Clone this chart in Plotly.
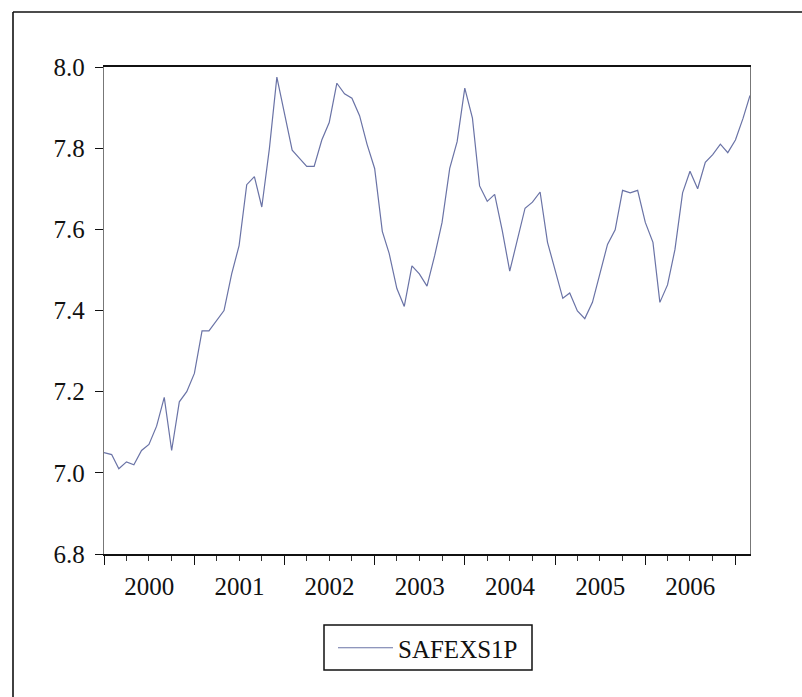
import pandas as pd
import plotly.graph_objects as go

# ---- data ----
series_name = "SAFEXS1P"
start_month = "2000-01-01"
values = [
    7.050, 7.045, 7.010, 7.027, 7.020, 7.055, 7.070, 7.115, 7.186, 7.055, 7.175, 7.200,   # 2000
    7.245, 7.350, 7.350, 7.377, 7.400, 7.490, 7.560, 7.710, 7.730, 7.655, 7.800, 7.975,   # 2001
    7.885, 7.795, 7.776, 7.755, 7.755, 7.820, 7.863, 7.960, 7.934, 7.923, 7.880, 7.810,   # 2002
    7.750, 7.595, 7.540, 7.454, 7.410, 7.510, 7.490, 7.460, 7.535, 7.617, 7.750, 7.816,   # 2003
    7.948, 7.874, 7.707, 7.669, 7.686, 7.596, 7.497, 7.577, 7.652, 7.667, 7.692, 7.568,   # 2004
    7.497, 7.430, 7.443, 7.399, 7.380, 7.420, 7.490, 7.563, 7.599, 7.696, 7.690, 7.696,   # 2005
    7.617, 7.568, 7.420, 7.463, 7.550, 7.690, 7.743, 7.700, 7.765, 7.784, 7.810, 7.789,   # 2006
    7.820, 7.874, 7.930,                                                                  # 2007
]
dates = pd.date_range(start_month, periods=len(values), freq="MS")
y_range = [6.8, 8.0]

FONT = "Liberation Serif"
W, H = 802, 697
L, R, T, B = 104, 52, 67, 143   # margins -> plot area 104..750 x 67..554
pw, ph = W - L - R, H - T - B

def px_to_paper_x(px):
    return (px - L) / pw

def px_to_paper_y(py):
    return (H - B - py) / ph

fig = go.Figure()
fig.add_trace(go.Scatter(
    x=dates, y=values, mode="lines", name=series_name,
    line=dict(color="#6a73a6", width=1.2),
))

fig.update_layout(
    width=W, height=H,
    margin=dict(l=L, r=R, t=T, b=B, pad=0),
    paper_bgcolor="white", plot_bgcolor="white",
    font=dict(family=FONT, size=25, color="#111111"),
    showlegend=True,
    legend=dict(
        x=px_to_paper_x(428), xanchor="center",
        y=px_to_paper_y(625), yanchor="top",
        borderwidth=0, bgcolor="rgba(0,0,0,0)",
        font=dict(family=FONT, size=25, color="#111111"),
        itemwidth=55, tracegroupgap=0,
    ),
    xaxis=dict(
        type="date",
        range=[dates[0], dates[-1]],
        tick0=start_month, dtick="M12",
        tickformat="%Y", ticklabelmode="period",
        ticks="outside", ticklen=9, tickwidth=1.3, tickcolor="#111111",
        minor=dict(dtick="M3", ticks="outside", ticklen=5, tickwidth=1, tickcolor="#333333"),
        showline=True, linecolor="#111111", linewidth=1.5, mirror=True,
        showgrid=False, zeroline=False,
        tickfont=dict(family=FONT, size=25, color="#111111"),
        ticklabelstandoff=0,
    ),
    yaxis=dict(
        range=y_range, dtick=0.2, tick0=6.8, tickformat=".1f",
        ticks="outside", ticklen=8, tickwidth=1.3, tickcolor="#111111",
        showline=True, linecolor="#777777", linewidth=1.3, mirror=True,
        showgrid=False, zeroline=False,
        tickfont=dict(family=FONT, size=25, color="#111111"),
        ticklabelstandoff=5,
    ),
)

# legend box
fig.add_shape(type="rect", xref="paper", yref="paper",
              x0=px_to_paper_x(324), x1=px_to_paper_x(532),
              y0=px_to_paper_y(670), y1=px_to_paper_y(625),
              line=dict(color="#111111", width=1.5), fillcolor="rgba(0,0,0,0)", layer="above")

# outer frame (scanned graph border: top and left edges)
frame = dict(type="line", xref="paper", yref="paper", line=dict(color="#111111", width=1.6), layer="above")
fig.add_shape(x0=px_to_paper_x(13), y0=px_to_paper_y(12), x1=px_to_paper_x(802), y1=px_to_paper_y(12), **frame)
fig.add_shape(x0=px_to_paper_x(13), y0=px_to_paper_y(12), x1=px_to_paper_x(13), y1=px_to_paper_y(697), **frame)

fig.write_html("out.html")
